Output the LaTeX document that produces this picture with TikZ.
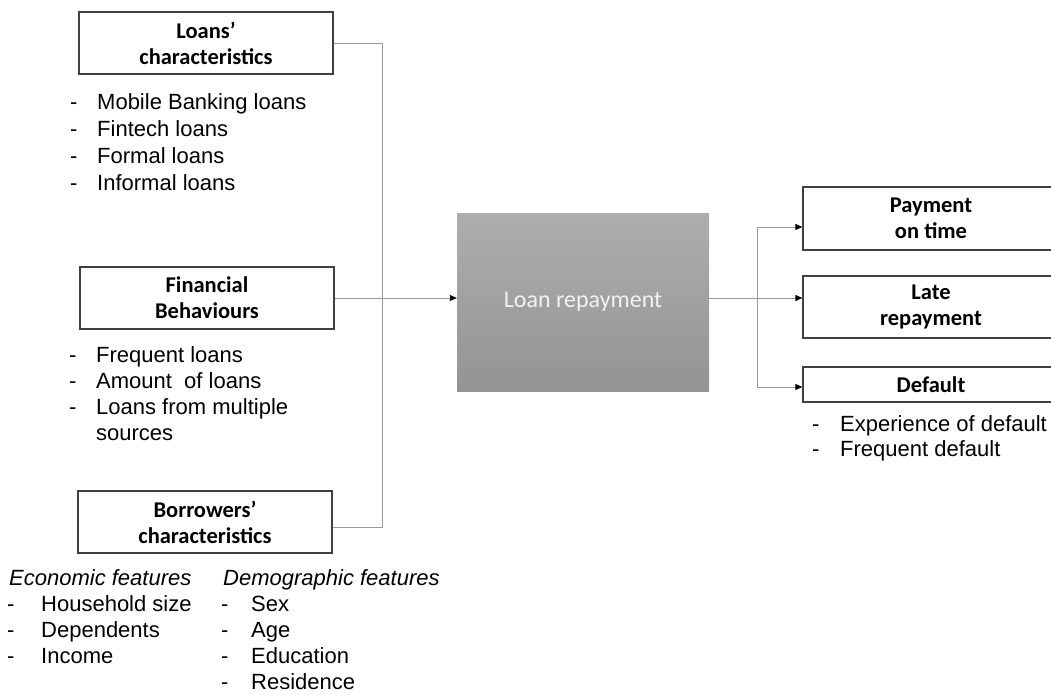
\documentclass[tikz,border=0pt]{standalone}
\usepackage{fontspec}
\setmainfont{Liberation Sans}
\newfontfamily\carlito{Carlito}
\usetikzlibrary{arrows.meta}
\definecolor{conn}{HTML}{9A9A9A}
\definecolor{boxline}{HTML}{404040}
\begin{document}
\begin{tikzpicture}[x=1pt,y=-1pt,
  titlebox/.style={draw=boxline,line width=1.3pt,fill=white,inner sep=0pt,
    minimum width=254pt,minimum height=62pt,align=center,
    font=\carlito\bfseries\fontsize{22.5}{26}\selectfont},
  outbox/.style={draw=boxline,line width=1.3pt,fill=white,inner sep=0pt,
    minimum width=256pt,align=center,font=\carlito\bfseries\fontsize{22.5}{26}\selectfont},
  conn/.style={draw=conn,line width=0.9pt},
  arr/.style={conn,-{Triangle[length=7pt,width=6pt,fill=black,color=black]}},
  listtxt/.style={anchor=base west,inner sep=0pt,font=\fontsize{22}{26}\selectfont},
]
\path[use as bounding box] (0,0) rectangle (1051,695);

% left boxes
\node[titlebox] (loans) at (206,43) {Loans’\\characteristics};
\node[titlebox] (fin) at (207,298) {Financial\\Behaviours};
\node[titlebox] (borr) at (205,522) {Borrowers’\\characteristics};

% centre box
\node[draw=none,top color=black!32,bottom color=black!42,inner sep=0pt,
  minimum width=252pt,minimum height=178pt,
  font=\carlito\fontsize{24}{28}\selectfont,text=white!95!black] (rep) at (583,302) {Loan repayment};

% right boxes
\node[outbox,minimum height=63pt] (pay) at (931,218.5) {Payment\\on time};
\node[outbox,minimum height=62pt] (late) at (931,307) {Late\\repayment};
\node[outbox,minimum height=35pt] (def) at (931,384.5) {Default};

% connectors left
\coordinate (tr) at (382,43);
\coordinate (br) at (382,527);
\draw[conn] (loans.east |- tr) -- (tr) -- (br) -- (borr.east |- br);
\draw[arr] (fin.east |- 0,298) -- (rep.west |- 0,298);

% connectors right
\coordinate (jm) at (757,298);
\coordinate (jt) at (757,227);
\coordinate (jb) at (757,387);
\draw[conn] (rep.east |- jm) -- (jm);
\draw[conn] (jt) -- (jb);
\draw[arr] (jt) -- (jt -| pay.west);
\draw[arr] (jm) -- (jm -| late.west);
\draw[arr] (jb) -- (jb -| def.west);

% lists
\foreach \t [count=\i] in {Mobile Banking loans,Fintech loans,Formal loans,Informal loans}{
  \node[listtxt] (la\i) at (70,{110+26.7*(\i-1)}) {-};
  \node[listtxt] (lb\i) at (97,{110+26.7*(\i-1)}) {\t};
}
\foreach \t [count=\i] in {Frequent loans,Amount\ \ of loans,Loans from multiple}{
  \node[listtxt] (fa\i) at (69,{362+26*(\i-1)}) {-};
  \node[listtxt] (fb\i) at (96,{362+26*(\i-1)}) {\t};
}
\node[listtxt] (fb4) at (96,440) {sources};

\node[listtxt,font=\itshape\fontsize{22}{26}\selectfont] (eco) at (9,585) {Economic features};
\node[listtxt,font=\itshape\fontsize{22}{26}\selectfont] (dem) at (223,585) {Demographic features};
\foreach \t [count=\i] in {Household size,Dependents,Income}{
  \node[listtxt] (ea\i) at (7,{611+26.3*(\i-1)}) {-};
  \node[listtxt] (eb\i) at (41,{611+26.3*(\i-1)}) {\t};
}
\foreach \t [count=\i] in {Sex,Age,Education,Residence}{
  \node[listtxt] (da\i) at (221,{611+26.3*(\i-1)}) {-};
  \node[listtxt] (db\i) at (251,{611+26.3*(\i-1)}) {\t};
}
\foreach \t [count=\i] in {Experience of default,Frequent default}{
  \node[listtxt] (xa\i) at (812,{431+25*(\i-1)}) {-};
  \node[listtxt] (xb\i) at (840,{431+25*(\i-1)}) {\t};
}
\end{tikzpicture}
\end{document}
